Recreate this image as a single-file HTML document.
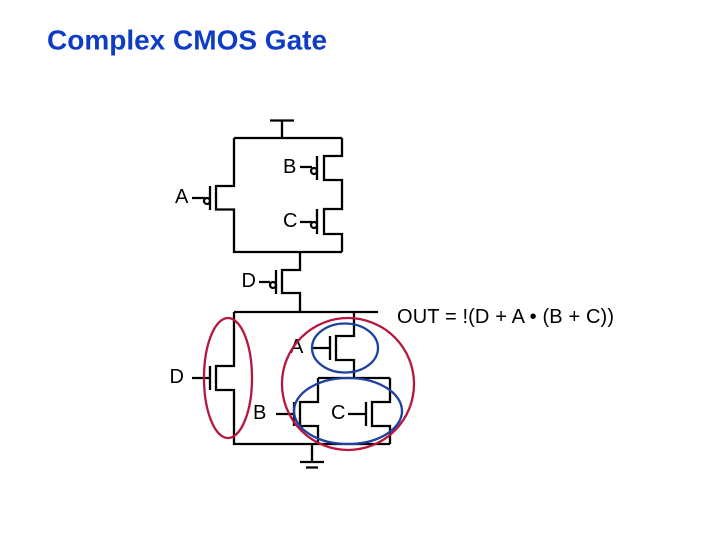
<!DOCTYPE html>
<html>
<head>
<meta charset="utf-8">
<style>
html,body{margin:0;padding:0;background:#fff}
svg{display:block}
text{font-family:"Liberation Sans",sans-serif}
</style>
</head>
<body>
<svg width="720" height="540" viewBox="0 0 720 540" xmlns="http://www.w3.org/2000/svg">
<rect width="720" height="540" fill="#fff"/>
<text x="47" y="49.500" font-size="28" font-weight="bold" fill="#0f3cc4">Complex CMOS Gate</text>
<g fill="none" stroke="#000" stroke-width="2.300">
<!-- VDD -->
<path d="M270 120.500H294M282 120V138"/>
<path d="M234 138H342M234 138V186H216V209.500H234V252H342"/>
<path d="M342 138V156H324V180H342V209H324V234H342V252"/>
<path d="M300 252V270H282V293H300V312"/>
<path d="M210 186V210M192 198H205M317 156V180M300 167H312M317 209V234M300 222H312M276 270V294M259 282H270"/>
<circle cx="207" cy="201" r="3"/>
<circle cx="314" cy="171" r="3"/>
<circle cx="314" cy="225" r="3"/>
<circle cx="273" cy="285" r="3"/>
<!-- NMOS -->
<path d="M234 312H378M234 312V366H216V390H234V444H390"/>
<path d="M354 312V336H336V360H354V378M318 378H390M318 378V402H300V426H318V444M390 378V402H372V426H390V444"/>
<path d="M210 366V390M192 378H210M330 336V360M313 348H330M294 402V426M276 414H294M366 402V426M348 414H366"/>
<path d="M312 444V462M300 462H324M306 467.500H318"/>
</g>
<g font-size="20" fill="#000">
<text x="283" y="173">B</text>
<text x="175" y="203">A</text>
<text x="283" y="227">C</text>
<text x="241.500" y="287">D</text>
<text x="397" y="323" textLength="217" lengthAdjust="spacing">OUT = !(D + A • (B + C))</text>
<text x="290" y="353">A</text>
<text x="169.500" y="383">D</text>
<text x="253" y="419">B</text>
<text x="331" y="419">C</text>
</g>
<g fill="none" stroke-width="2.300">
<ellipse cx="228" cy="378" rx="24" ry="60" stroke="#b5173f"/>
<ellipse cx="348" cy="384" rx="66" ry="66" stroke="#b5173f"/>
<ellipse cx="345" cy="348" rx="33" ry="24.500" stroke="#1f429f"/>
<ellipse cx="348" cy="411" rx="54" ry="33" stroke="#1f429f"/>
</g>
</svg>
</body>
</html>
